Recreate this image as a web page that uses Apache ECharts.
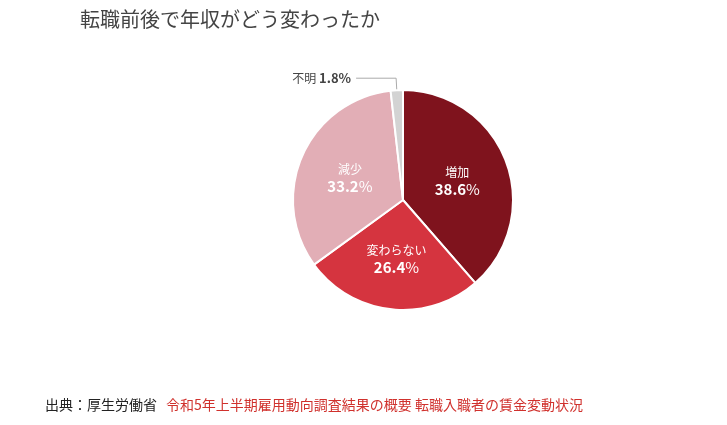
<!DOCTYPE html>
<html><head><meta charset="utf-8">
<script src="https://cdn.jsdelivr.net/npm/echarts@6/dist/echarts.min.js"></script>
<style>html,body{margin:0;padding:0;background:#fff}#c{width:727px;height:425px}</style>
</head><body><div id="c"></div>
<script>
const categories = ['増加', '変わらない', '減少', '不明'];
const values = [38.6, 26.4, 33.2, 1.8];
const colors = ['#7f131d', '#d5343f', '#e2aeb6', '#d3d3d3'];
const title = '転職前後で年収がどう変わったか';
const sourcePrefix = '出典：厚生労働省 ';
const sourceLink = '令和5年上半期雇用動向調査結果の概要 転職入職者の賃金変動状況';

const chart = echarts.init(document.getElementById('c'));
const font = '"Noto Sans CJK JP", "Noto Sans", sans-serif';
const data = categories.map((n, i) => {
  const d = { name: n, value: values[i], itemStyle: { color: colors[i] } };
  if (n === '不明') {
    d.label = { position: 'outside', formatter: p => '{n|' + p.name + '} {v|' + p.value + '%}' ,
      rich: { n: { fontSize: 12, color: '#444', fontFamily: font }, v: { fontSize: 13, fontWeight: 'bold', color: '#444', fontFamily: font } } };
    d.labelLine = { show: true, length: 12, length2: 40, lineStyle: { color: '#aaa' } };
  }
  return d;
});
chart.setOption({
  animation: false,
  graphic: [
    { type: 'text', left: 80, top: 9, style: { text: title, font: '20px ' + font, fill: '#444' } },
    { type: 'text', left: 45, top: 398, style: { text: sourcePrefix, font: '14px ' + font, fill: '#222' } },
    { type: 'text', left: 166, top: 398, style: { text: sourceLink, font: '14px ' + font, fill: '#d0312d' } }
  ],
  series: [{
    type: 'pie', center: [403, 200], radius: [0, 110], startAngle: 90, clockwise: true,
    itemStyle: { borderColor: '#fff', borderWidth: 2 },
    label: { position: 'inner', fontFamily: font,
      formatter: p => '{n|' + p.name + '}\n{v|' + p.value + '}{p|%}',
      rich: { n: { fontSize: 12, color: '#fff', lineHeight: 20, fontFamily: font },
              v: { fontSize: 15, fontWeight: 'bold', color: '#fff', fontFamily: font },
              p: { fontSize: 15, color: '#fff', fontFamily: font } } },
    labelLine: { show: false },
    data: data
  }]
});
</script></body></html>
